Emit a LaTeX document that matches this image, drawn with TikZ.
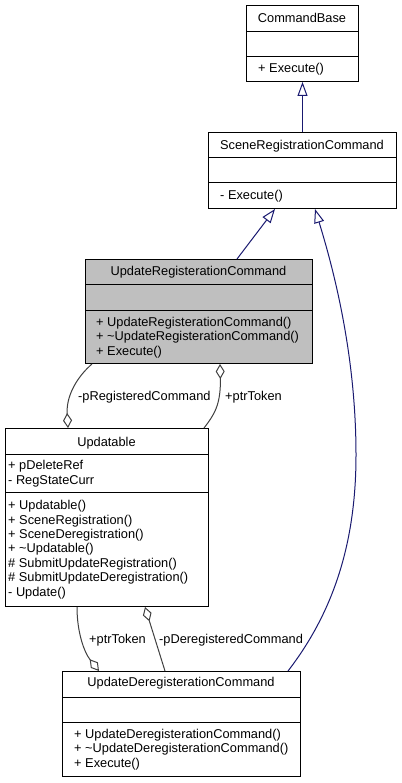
\documentclass[tikz,border=0pt]{standalone}
\usepackage{fontspec}
\setmainfont{Liberation Sans}
\usetikzlibrary{arrows.meta}
\definecolor{inhcol}{HTML}{191970}
\definecolor{aggcol}{HTML}{404040}
\definecolor{hlfill}{HTML}{BFBFBF}
\begin{document}
\begin{tikzpicture}[x=1pt,y=-1pt,
  box/.style={draw=black, line width=1pt, inner sep=0pt, anchor=north west},
  divl/.style={draw=black, line width=1pt},
  txt/.style={inner sep=0pt, font=\fontsize{12.8}{14.4}\selectfont},
  ttl/.style={txt, anchor=base},
  mem/.style={txt, anchor=base west},
  inh/.style={draw=inhcol, line width=1pt, -{Triangle[length=14pt, width=10pt, fill=white]}},
  agg/.style={draw=aggcol, line width=1pt, {Diamond[length=15pt, width=9pt, fill=white]}-}
]
\useasboundingbox[fill=white] (0,0) rectangle (401,783);

% CommandBase
\node[box, fill=white, minimum width=112pt, minimum height=76pt] (cb) at (246,5) {};
\draw[divl] (246,32) -- (358,32);
\draw[divl] (246,57) -- (358,57);
\node[ttl] (cbt) at (302,22.5) {CommandBase};
\node[mem] (cbm1) at (258,73) {+ Execute()};

% SceneRegistrationCommand
\node[box, fill=white, minimum width=188pt, minimum height=76pt] (sr) at (208,132) {};
\draw[divl] (208,158) -- (396,158);
\draw[divl] (208,183) -- (396,183);
\node[ttl] (srt) at (302,149.5) {SceneRegistrationCommand};
\node[mem] (srm1) at (220,199.5) {- Execute()};

% UpdateRegisterationCommand
\node[box, fill=hlfill, minimum width=227pt, minimum height=104pt] (ur) at (85,259) {};
\draw[divl] (85,284) -- (312,284);
\draw[divl] (85,310) -- (312,310);
\node[ttl] (urt) at (198.5,275) {UpdateRegisterationCommand};
\node[mem] (urm1) at (96,326) {+ UpdateRegisterationCommand()};
\node[mem] (urm2) at (96,340.5) {+ \textasciitilde UpdateRegisterationCommand()};
\node[mem] (urm3) at (96,355) {+ Execute()};

% Updatable
\node[box, fill=white, minimum width=203pt, minimum height=178pt] (up) at (5,428) {};
\draw[divl] (5,454) -- (208,454);
\draw[divl] (5,492) -- (208,492);
\node[ttl] (upt) at (106.5,446) {Updatable};
\node[mem] (upa1) at (8,469.5) {+ pDeleteRef};
\node[mem] (upa2) at (8,484) {- RegStateCurr};
\node[mem] (upm1) at (8,509.5) {+ Updatable()};
\node[mem] (upm2) at (8,524) {+ SceneRegistration()};
\node[mem] (upm3) at (8,538.3) {+ SceneDeregistration()};
\node[mem] (upm4) at (8,552.7) {+ \textasciitilde Updatable()};
\node[mem] (upm5) at (8,567) {\# SubmitUpdateRegistration()};
\node[mem] (upm6) at (8,581.5) {\# SubmitUpdateDeregistration()};
\node[mem] (upm7) at (8,596) {- Update()};

% UpdateDeregisterationCommand
\node[box, fill=white, minimum width=238pt, minimum height=105pt] (ud) at (62,671) {};
\draw[divl] (62,697) -- (300,697);
\draw[divl] (62,722) -- (300,722);
\node[ttl] (udt) at (181,686.5) {UpdateDeregisterationCommand};
\node[mem] (udm1) at (74,738) {+ UpdateDeregisterationCommand()};
\node[mem] (udm2) at (74,752.5) {+ \textasciitilde UpdateDeregisterationCommand()};
\node[mem] (udm3) at (74,767) {+ Execute()};

% Inheritance
\draw[inh] (sr.north) -- (cb.south);
\draw[inh] ([xshift=152pt]ur.north west) -- ([xshift=67pt]sr.south west);
\draw[inh] ([xshift=226pt]ud.north west)
  .. controls (335,610) and (356,540) .. (356,455)
  .. controls (356,370) and (340,290) .. ([xshift=107pt]sr.south west);

% Aggregations
\draw[agg] ([xshift=63pt]up.north west) .. controls (66,395) and (78,376) .. ([xshift=7pt]ur.south west);
\draw[agg] ([xshift=135pt]ur.south west) .. controls (221,405) and (214,415) .. ([xshift=199pt]up.north west);
\draw[agg] ([xshift=37pt]ud.north west) .. controls (84,652) and (77,632) .. ([xshift=72pt]up.south west);
\draw[agg] ([xshift=140pt]up.south west) -- ([xshift=103pt]ud.north west);

% Labels
\node[mem] (l1) at (78,400) {-pRegisteredCommand};
\node[mem] (l2) at (225,400) {+ptrToken};
\node[mem] (l3) at (89,643) {+ptrToken};
\node[mem] (l4) at (159,643) {-pDeregisteredCommand};
\end{tikzpicture}
\end{document}
